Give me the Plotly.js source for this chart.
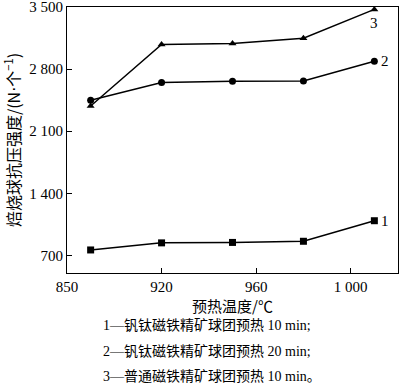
<!DOCTYPE html>
<html>
<head>
<meta charset="utf-8">
<script src="https://cdn.plot.ly/plotly-3.0.1.min.js"></script>
<style>html,body{margin:0;padding:0;background:#fff;}#chart{width:400px;height:387px;}</style>
</head>
<body>
<div id="chart"></div>
<script>
const temps = [890, 920, 950, 980, 1010];
const series1 = [760, 840, 845, 858, 1090];
const series2 = [2450, 2650, 2665, 2668, 2890];
const series3 = [2385, 3080, 3090, 3150, 3475];
const seriesLabels = ["1", "2", "3"];
const legendLines = [
  "1—钒钛磁铁精矿球团预热 10 min;",
  "2—钒钛磁铁精矿球团预热 20 min;",
  "3—普通磁铁精矿球团预热 10 min。"
];
const xTickVals = [880, 920, 960, 1000];
const xTickText = ["850", "920", "960", "1 000"];
const yTickVals = [700, 1400, 2100, 2800, 3500];
const yTickText = ["700", "1 400", "2 100", "2 800", "3 500"];
const xTitle = "预热温度/℃";
const yTitle = "焙烧球抗压强度/(N<span style=\"font-family:'DejaVu Sans'\">·</span>个<sup>−1</sup>)";

const serif = "'Liberation Serif', 'Times New Roman', 'Noto Sans CJK SC', serif";
const cjk = "'Noto Sans CJK SC', 'Liberation Serif', sans-serif";

function tr(y, sym) {
  return {x: temps, y: y, mode: 'lines+markers', type: 'scatter',
    line: {color: '#000', width: 1.5},
    marker: {symbol: sym, size: 7, color: '#000'}, showlegend: false,
    cliponaxis: false};
}
const data = [tr(series1, 'square'), tr(series2, 'circle'), tr(series3, 'triangle-up')];

const annotations = [
  {x: temps[4], y: series1[4], text: seriesLabels[0], xanchor: 'left', xshift: 5, yanchor: 'middle'},
  {x: temps[4], y: series2[4], text: seriesLabels[1], xanchor: 'left', xshift: 5, yanchor: 'middle'},
  {x: temps[4], y: series3[4], text: seriesLabels[2], xanchor: 'center', yanchor: 'top', yshift: -4}
].map(a => Object.assign(a, {xref: 'x', yref: 'y', showarrow: false, font: {family: serif, size: 15, color: '#000'}}));

const legendY = [325, 351, 376];
legendLines.forEach((t, i) => {
  annotations.push({xref: 'paper', yref: 'paper', x: (101 - 67) / 331, y: (273 - legendY[i]) / 266,
    text: t, showarrow: false, xanchor: 'left', yanchor: 'middle',
    font: {family: serif, size: 14, color: '#000'}});
});

const layout = {
  width: 400, height: 387,
  margin: {l: 67, r: 2, t: 7, b: 114},
  paper_bgcolor: '#fff', plot_bgcolor: '#fff',
  font: {family: serif, color: '#000'},
  xaxis: {range: [880, 1020], tickvals: xTickVals, ticktext: xTickText,
    ticks: 'inside', ticklen: 5, tickcolor: '#000', showgrid: false, zeroline: false,
    showline: true, linecolor: '#000', linewidth: 1, mirror: true,
    tickfont: {family: serif, size: 15, color: '#000'},
    title: {text: xTitle, font: {family: cjk, size: 15, color: '#000'}, standoff: 1}},
  yaxis: {range: [500, 3502], tickvals: yTickVals, ticktext: yTickText,
    ticks: 'inside', ticklen: 5, tickcolor: '#000', showgrid: false, zeroline: false,
    showline: true, linecolor: '#000', linewidth: 1, mirror: true,
    ticklabeloverflow: 'allow',
    tickfont: {family: serif, size: 15, color: '#000'},
    title: {text: yTitle, font: {family: cjk, size: 16, color: '#000'}, standoff: 4}},
  annotations: annotations
};
Plotly.newPlot('chart', data, layout, {displayModeBar: false, staticPlot: true});
</script>
</body>
</html>
